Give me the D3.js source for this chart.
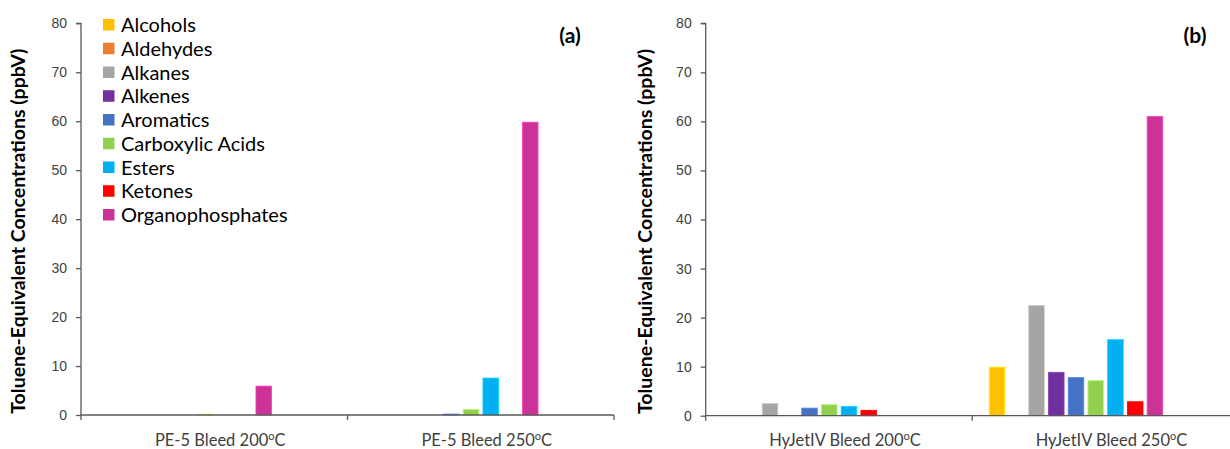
<!DOCTYPE html>
<html>
<head>
<meta charset="utf-8">
<script src="https://cdn.jsdelivr.net/npm/d3@7"></script>
<style>
  body { margin: 0; background: #fff; }
  svg { display: block; font-family: Lato, "Open Sans", sans-serif; }
</style>
</head>
<body>
<svg id="chart" width="1230" height="449"></svg>
<script>
// ---------- data ----------
const series = ["Alcohols", "Aldehydes", "Alkanes", "Alkenes", "Aromatics",
                "Carboxylic Acids", "Esters", "Ketones", "Organophosphates"];
const colors = ["#FFC000", "#ED7D31", "#A5A5A5", "#7030A0", "#4472C4",
                "#92D050", "#00B0F0", "#FF0000", "#CC3399"];

const categoriesA = ["PE-5 Bleed 200", "PE-5 Bleed 250"];
const categoriesB = ["HyJetIV Bleed 200", "HyJetIV Bleed 250"];

// values per series: [200°C, 250°C]
const alcoholsA = [0, 0],       alcoholsB = [0, 9.9];
const aldehydesA = [0, 0],      aldehydesB = [0, 0];
const alkanesA = [0, 0],        alkanesB = [2.5, 22.5];
const alkenesA = [0, 0],        alkenesB = [0, 8.85];
const aromaticsA = [0, 0.2],    aromaticsB = [1.55, 7.8];
const carboxylicA = [0.15, 1.15], carboxylicB = [2.25, 7.15];
const estersA = [0, 7.55],      estersB = [1.9, 15.5];
const ketonesA = [0, 0],        ketonesB = [1.1, 2.85];
const organoA = [5.9, 59.8],    organoB = [0, 61.0];

const yTicks = [0, 10, 20, 30, 40, 50, 60, 70, 80];
const yTitle = "Toluene-Equivalent Concentrations (ppbV)";

const valuesA = [alcoholsA, aldehydesA, alkanesA, alkenesA, aromaticsA, carboxylicA, estersA, ketonesA, organoA];
const valuesB = [alcoholsB, aldehydesB, alkanesB, alkenesB, aromaticsB, carboxylicB, estersB, ketonesB, organoB];

// ---------- drawing ----------
const svg = d3.select("#chart");
const axisColor = "#595959";
const labelColor = "#404040";

function panel(cfg) {
  const { cats, vals, left, right, bottom, top, label, labelX, titleX, legend } = cfg;
  const g = svg.append("g");
  const x0 = d3.scaleBand().domain(cats).range([left, right]).paddingInner(0).paddingOuter(0);
  const W = x0.bandwidth();
  const x1 = d3.scaleBand().domain(series).range([W * 0.0639, W * 0.715]).paddingInner(0.21).paddingOuter(0);
  const y = d3.scaleLinear().domain([0, 80]).range([bottom, top]);

  // bars
  const data = [];
  cats.forEach((c, ci) => series.forEach((s, si) => {
    data.push({ cat: c, s: s, v: vals[si][ci], color: colors[si] });
  }));
  g.selectAll("rect.bar").data(data.filter(d => d.v > 0)).join("rect")
    .attr("class", "bar")
    .attr("x", d => x0(d.cat) + x1(d.s))
    .attr("width", x1.bandwidth())
    .attr("y", d => y(d.v))
    .attr("height", d => y(0) - y(d.v))
    .attr("fill", d => d.color)
    .attr("stroke", d => d3.color(d.color).brighter(0.6))
    .attr("stroke-width", 0.8);

  // y axis
  const ya = g.append("g").attr("transform", `translate(${left},0)`)
    .call(d3.axisLeft(y).tickValues(yTicks).tickSize(5).tickPadding(9));
  ya.select(".domain").attr("stroke", axisColor).attr("stroke-width", 1.3)
    .attr("d", `M-5,${y(80)}H0V${bottom + 5}`);
  ya.selectAll(".tick line").attr("stroke", axisColor).attr("stroke-width", 1.3);
  ya.selectAll(".tick text").attr("fill", labelColor).style("font-size", "14px");

  // x axis
  const xa = g.append("g").attr("transform", `translate(0,${bottom})`);
  xa.append("line").attr("x1", left).attr("x2", right).attr("y1", 0).attr("y2", 0)
    .attr("stroke", axisColor).attr("stroke-width", 1.3);
  const bounds = cats.map(c => x0(c)).concat([x0(cats[cats.length - 1]) + W]);
  xa.selectAll("line.xt").data(bounds.slice(1)).join("line").attr("class", "xt")
    .attr("x1", d => d).attr("x2", d => d).attr("y1", 0).attr("y2", 5)
    .attr("stroke", axisColor).attr("stroke-width", 1.3);
  const xt = xa.selectAll("text.xl").data(cats).join("text").attr("class", "xl")
    .attr("x", d => x0(d) + W / 2 + 6).attr("y", 30.5)
    .attr("text-anchor", "middle").attr("fill", labelColor)
    .style("font-size", "16.5px");
  xt.append("tspan").text(d => d);
  xt.append("tspan").text("o").attr("dy", -6).style("font-size", "11px");
  xt.append("tspan").text("C").attr("dy", 6);

  // y title
  g.append("text")
    .attr("transform", `translate(${titleX},${(top + bottom) / 2 + 12}) rotate(-90)`)
    .attr("text-anchor", "middle").attr("fill", "#000")
    .style("font-size", "19.5px").style("font-weight", "bold")
    .text(yTitle);

  // panel label
  g.append("text").attr("x", labelX).attr("y", 43).attr("text-anchor", "middle")
    .style("font-size", "21px").style("font-weight", "bold").text(label);

  if (legend) {
    const lg = g.append("g");
    const rows = lg.selectAll("g").data(series).join("g")
      .attr("transform", (d, i) => `translate(103,${25 + i * 23.75})`);
    rows.append("rect").attr("x", 0).attr("y", -6).attr("width", 11.5).attr("height", 11.5)
      .attr("fill", (d, i) => colors[i]);
    rows.append("text").attr("x", 18).attr("y", 7).attr("fill", "#000")
      .style("font-size", "20px").text(d => d);
  }
}

panel({ cats: categoriesA, vals: valuesA, left: 81, right: 614, bottom: 415, top: 23.3,
        label: "(a)", labelX: 570, titleX: 25, legend: true });
panel({ cats: categoriesB, vals: valuesB, left: 705.7, right: 1238.7, bottom: 415.7, top: 23.3,
        label: "(b)", labelX: 1195, titleX: 652, legend: false });
</script>
</body>
</html>
